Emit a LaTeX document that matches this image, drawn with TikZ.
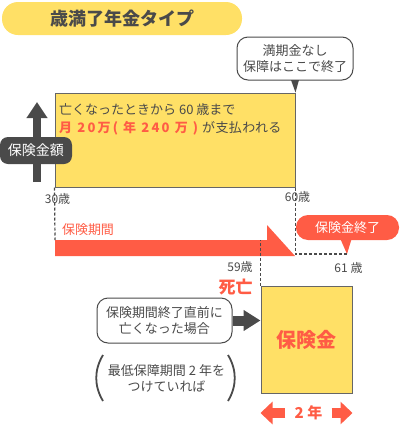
\documentclass[tikz,border=0pt]{standalone}
\usepackage{fontspec}
\setmainfont{Noto Sans CJK JP}
\usepackage{tikz}
\usetikzlibrary{arrows.meta, positioning, calc}

\definecolor{yellowbg}{HTML}{FFE066}
\definecolor{redc}{HTML}{FF5C45}
\definecolor{darkc}{HTML}{4A4A4A}
\definecolor{edgec}{HTML}{666666}

\begin{document}
\begin{tikzpicture}[x=1pt, y=-1pt,
    every node/.style={inner sep=0pt, text=darkc, font=\fontsize{13}{16}\selectfont},
    bubble/.style={draw=darkc, line width=1pt, fill=white, rounded corners=11pt, align=center},
    yearbox/.style={draw=edgec, line width=1pt, fill=yellowbg},
    age/.style={font=\fontsize{12}{12}\selectfont},
    guide/.style={dashed, dash pattern=on 3pt off 2pt, line width=1.2pt, darkc}]
    \useasboundingbox (0,0) rectangle (400,429);

    % Cabecera
    \node [fill=yellowbg, rounded corners=16pt, minimum width=240pt, minimum height=33pt, font=\fontsize{18}{18}\selectfont\bfseries] (title) at (122,18.5) {歳満了年金タイプ};

    % Pago mensual hasta los 60
    \node [bubble, minimum width=116pt, minimum height=43pt] (note) at (295,58.5) {満期金なし\\保障はここで終了};
    \node [yearbox, minimum width=240pt, minimum height=94pt] (pension) at (175,140) {};
    \fill[darkc] ($(note.south)+(-4,-0.5)$) -- ($(note.south)+(4,-0.5)$) -- (pension.north east) -- cycle;
    \node [anchor=west] (line1) at (59,110) {亡くなったときから 60 歳まで};
    \node [anchor=west] (line2) at (59,128) {{\color{redc}\bfseries\addfontfeature{LetterSpace=17}月 20万( 年 240 万 )}\hspace{4pt}{\addfontfeature{LetterSpace=3}が支払われる}};

    \coordinate (axisbase) at (37,182);
    \coordinate (axistop) at (37,102);
    \draw[darkc, line width=8pt, -{Triangle[width=20pt, length=16pt]}] (axisbase) -- (axistop);
    \node [fill=darkc, text=white, rounded corners=8pt, minimum width=72pt, minimum height=27pt, font=\fontsize{14}{14}\selectfont] (amount) at (36,150.5) {保険金額};

    % Periodo
    \node [age] (age30) at (57.5,199) {30歳};
    \node [age] (age60) at (297.5,197) {60歳};
    \fill[redc] (55,240) -- (267,240) -- (267,225) -- (295,256) -- (55,256) -- cycle;
    \node [text=redc] (period) at (88,230) {保険期間};
    \node [fill=redc, text=white, rounded corners=12pt, minimum width=103pt, minimum height=25pt] (stop) at (347.5,227.5) {保険金終了};
    \coordinate (stoptip) at (347,254);
    \fill[redc] ($(stop.south)+(-7,-1)$) -- ($(stop.south)+(4,-1)$) -- (stoptip) -- cycle;
    \draw[guide] (pension.south west) -- (55,240);
    \draw[guide] (pension.south east) -- (pension.south east |- stoptip) -- (stoptip);
    \node [age] (age59) at (240,267) {59歳};
    \node [age] (age61) at (348.5,268) {61 歳};

    % Fallecimiento
    \node [text=redc, font=\fontsize{17}{17}\selectfont\bfseries] (death) at (235.5,287.5) {死亡};
    \node [yearbox, minimum width=91pt, minimum height=107pt, text=redc, font=\fontsize{20}{20}\selectfont\bfseries] (benefit) at (306.5,339.5) {保険金};
    \draw[guide] (benefit.north west) -- (benefit.north west |- 0,240);
    \node [bubble, minimum width=135pt, minimum height=45pt] (case) at (164.5,320.5) {保険期間終了直前に\\亡くなった場合};
    \draw[darkc, line width=10pt, -{Triangle[width=20pt, length=17pt]}] (case.east) -- (case.east -| benefit.west);
    \node [align=center] (cond) at (166.5,378.5) {最低保障期間 2 年を\\つけていれば};
    \draw[darkc, line width=1.8pt] (103,355) .. controls (94,370) and (94,386) .. (103,401);
    \draw[darkc, line width=1.8pt] (228,355) .. controls (237,370) and (237,386) .. (228,401);

    \node [text=redc, font=\fontsize{15}{15}\selectfont\bfseries, minimum width=46pt] (span) at (308.5,413) {2 年};
    \draw[redc, line width=10pt, -{Triangle[width=22pt, length=12pt]}] (span.west) -- (span.west -| benefit.west);
    \draw[redc, line width=10pt, -{Triangle[width=22pt, length=12pt]}] (span.east) -- (span.east -| benefit.east);
\end{tikzpicture}
\end{document}
